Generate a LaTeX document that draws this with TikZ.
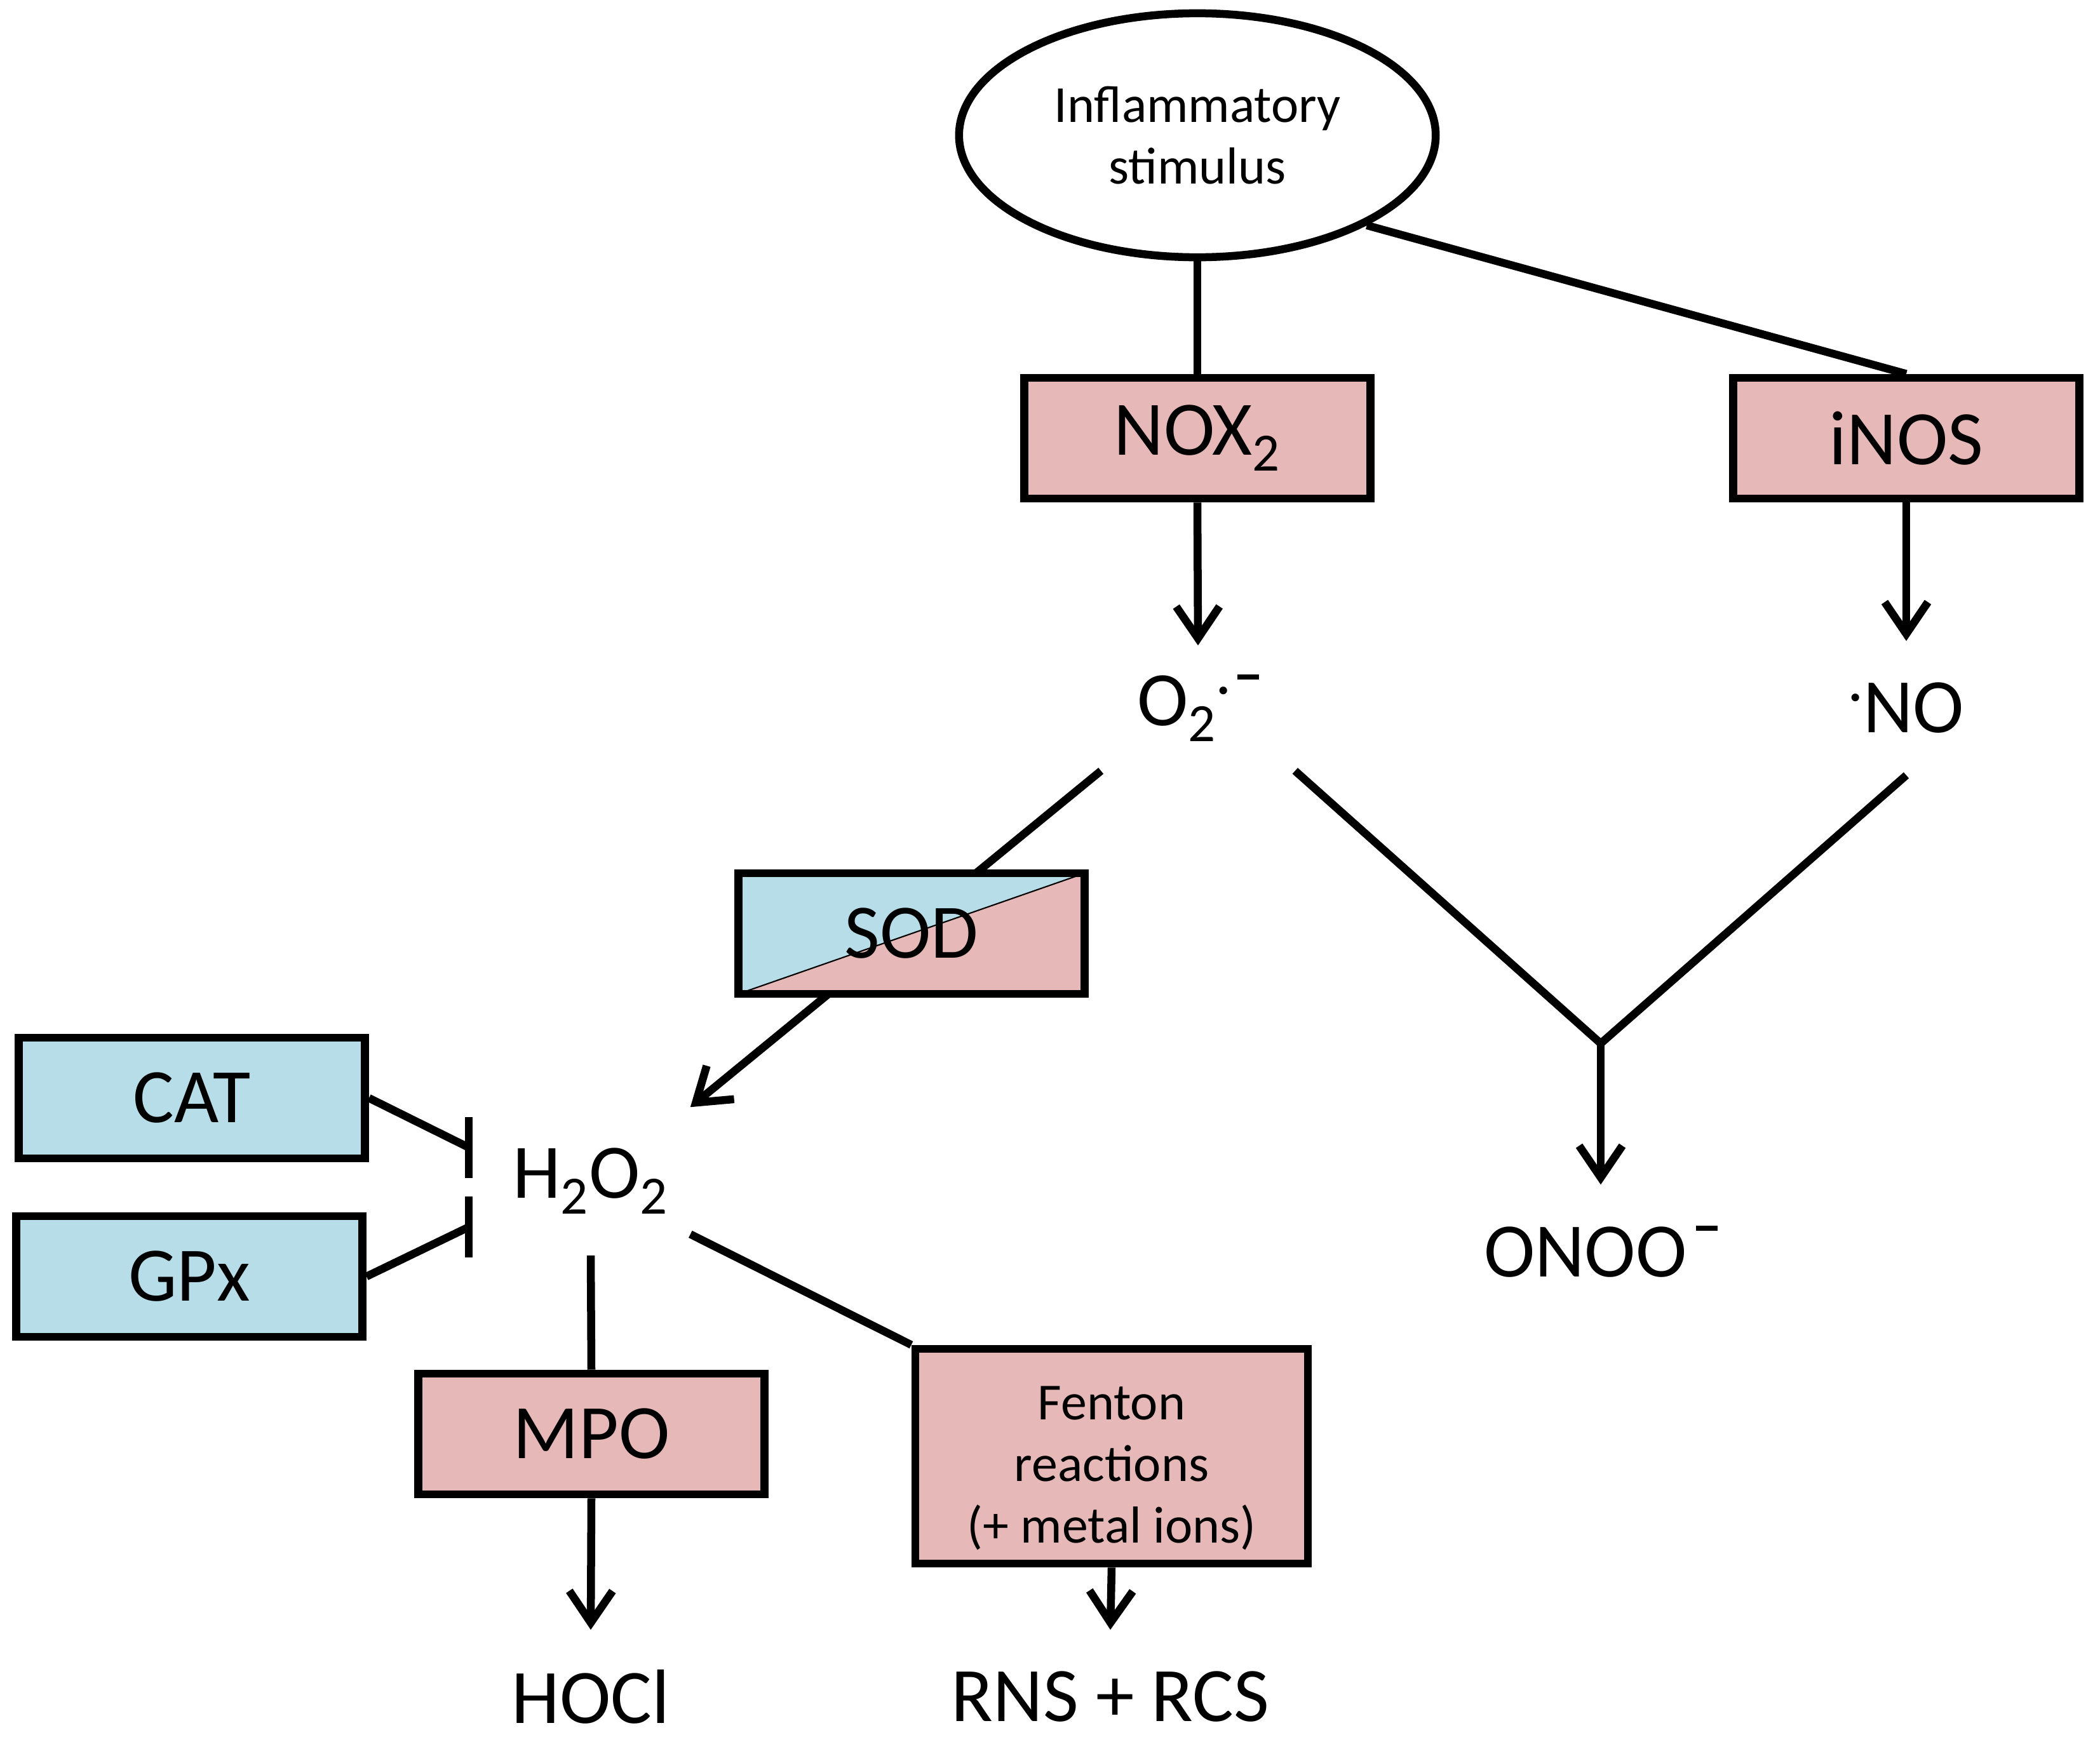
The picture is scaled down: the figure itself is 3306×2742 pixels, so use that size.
\documentclass[tikz,border=0pt]{standalone}
\usepackage{fontspec}
\setmainfont{Carlito}
\usetikzlibrary{shapes.geometric,arrows.meta,calc,backgrounds}
\definecolor{enzpink}{HTML}{E6B9B8}
\definecolor{enzblue}{HTML}{B7DEE8}
\newcommand\supminus{\rule[0.6em]{0.28em}{0.065em}}
\begin{document}
\begin{tikzpicture}[x=0.01cm,y=-0.01cm,
  lw/.style={line width=0.125cm},
  bigtxt/.style={font=\fontsize{34.5}{41}\selectfont},
  smalltxt/.style={font=\fontsize{23.3}{27.6}\selectfont},
  enzbox/.style={draw, lw, rectangle, minimum width=5.45cm, minimum height=1.9cm, inner sep=0pt, bigtxt},
  conn/.style={lw},
  arr/.style={lw, -{Straight Barb[length=0.5cm,width=0.68cm]}},
  chem/.style={inner sep=0pt, bigtxt, minimum height=2.1cm},
]
\useasboundingbox (0,0) rectangle (3306,2742);

\node[ellipse, draw, lw, fill=white, minimum width=7.5cm, minimum height=3.84cm, inner sep=0pt, smalltxt, align=center] (stim) at (1885,213) {Inflammatory\\stimulus};
\node[enzbox, fill=enzpink] (nox) at (1885,690) {NOX\textsubscript{2}};
\node[enzbox, fill=enzpink] (inos) at (3001,690) {iNOS};
\node[chem, minimum width=3.04cm, minimum height=1.96cm] (o2) at (1886,1115) {O\textsubscript{2}\textsuperscript{·}\hspace{0.08em}\supminus};
\node[chem] (no) at (3001,1115) {\textsuperscript{·}NO};
\node[chem, minimum width=3.12cm, minimum height=2.32cm] (h2o2) at (930,1860) {H\textsubscript{2}O\textsubscript{2}};
\node[chem] (onoo) at (2520,1971) {ONOO\hspace{0.12em}\supminus};
\node[enzbox, fill=enzblue] (cat) at (302,1729) {CAT};
\node[enzbox, fill=enzblue] (gpx) at (298,2010) {GPx};
\node[enzbox, fill=enzpink] (mpo) at (931,2258) {MPO};
\node[draw, lw, fill=enzpink, minimum width=6.18cm, minimum height=3.38cm, inner sep=0pt, smalltxt, align=center] (fen) at (1750,2293) {\rule{0pt}{0.9cm}Fenton\\reactions\\(+ metal ions)};
\node[chem] (hocl) at (930,2672) {HOCl};
\node[chem] (rns) at (1748,2672) {RNS + RCS};
\node[enzbox, fill=enzpink,
  path picture={
    \fill[enzblue] (path picture bounding box.south west) -- (path picture bounding box.north west) -- (path picture bounding box.north east) -- cycle;
    \draw[line width=0.6pt] (path picture bounding box.south west) -- (path picture bounding box.north east);
  }] (sod) at (1435,1470) {SOD};

\coordinate (j) at (2520,1643);
\coordinate (tc) at ($(h2o2.west)+(-35,-53)$);
\coordinate (tg) at ($(h2o2.west)+(-35,72)$);

\begin{scope}[on background layer]
\draw[conn] (stim.south) -- (nox.north);
\draw[conn] (stim.-28) -- (inos.north);
\draw[arr] (o2.south west) -- (h2o2.north east);
\end{scope}

\draw[arr] (nox.south) -- (o2.north);
\draw[arr] (inos.south) -- (no.north);
\draw[conn] (o2.south east) -- (j) -- (no.south);
\draw[arr] (j) -- (onoo.north);
\draw[conn] (h2o2.south) -- (mpo.north);
\draw[arr] (mpo.south) -- (hocl.north);
\draw[conn] (h2o2.-28.3) -- (fen.north west);
\draw[arr] (fen.south) -- (rns.north);
\draw[conn] (cat.east) -- (tc);
\draw[conn] ($(tc)+(0,-48)$) -- ($(tc)+(0,48)$);
\draw[conn] (gpx.east) -- (tg);
\draw[conn] ($(tg)+(0,-48)$) -- ($(tg)+(0,48)$);
\end{tikzpicture}
\end{document}
